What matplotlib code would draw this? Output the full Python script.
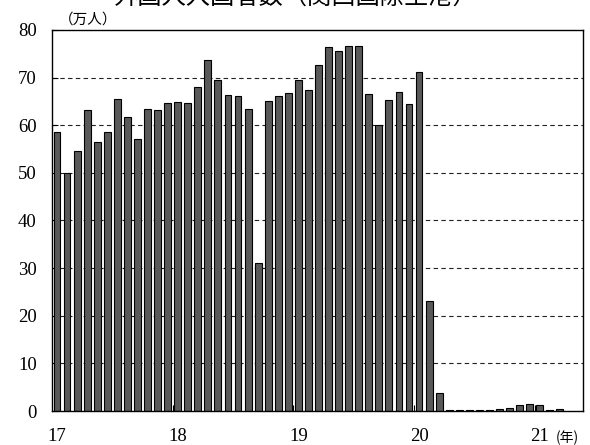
import matplotlib.pyplot as plt
import numpy as np

plt.rcParams['font.family'] = ['Liberation Serif', 'Noto Sans CJK JP']

# 月次データ 2017年1月〜2021年3月（万人）
y2017 = [58.6, 49.9, 54.5, 63.3, 56.4, 58.6, 65.6, 61.7, 57.1, 63.5, 63.3, 64.6]
y2018 = [64.8, 64.6, 68.0, 73.7, 69.4, 66.3, 66.2, 63.5, 31.1, 65.1, 66.1, 66.8]
y2019 = [69.6, 67.5, 72.6, 76.4, 75.5, 76.6, 76.6, 66.6, 60.1, 65.3, 67.0, 64.5]
y2020 = [71.1, 23.1, 3.7, 0.2, 0.2, 0.2, 0.2, 0.2, 0.5, 0.7, 1.3, 1.5]
y2021 = [1.3, 0.2, 0.4]
year_labels = ['17', '18', '19', '20', '21']

values = np.array(y2017 + y2018 + y2019 + y2020 + y2021)
x = np.arange(len(values))

fig = plt.figure(figsize=(5.9, 4.45), dpi=100)
ax = fig.add_axes([0.0881, 0.0764, 0.9000, 0.8562])

for v in range(10, 80, 10):
    ax.axhline(v, color='#222222', lw=0.8, ls=(0, (4, 3)), zorder=1)

ax.bar(x, values, width=0.68, color='#595959', edgecolor='black', linewidth=0.8, zorder=2)

ax.set_xlim(-0.5, 52.3)
ax.set_ylim(0, 80)
ax.set_yticks(range(0, 81, 10))
ax.tick_params(axis='y', direction='in', length=4, width=0.8, pad=11, labelsize=13.5)

# 年ラベルは1月の位置、目盛は年の区切り
ax.set_xticks(np.arange(0, len(values), 12))
ax.set_xticklabels(year_labels)
ax.set_xticks(np.arange(11.5, len(values), 12), minor=True)
ax.tick_params(axis='x', which='major', length=0, pad=12, labelsize=13.5)
ax.tick_params(axis='x', which='minor', direction='in', length=4, width=0.8)

for s in ax.spines.values():
    s.set_linewidth(1.0)
    s.set_zorder(3)

ax.text(49.6, -0.07, '(年)', transform=ax.get_xaxis_transform(), fontsize=10,
        family=['Noto Sans CJK JP'], ha='left', va='center')
fig.text(0.100, 0.957, '（万人）', fontsize=10.5, family=['Noto Sans CJK JP'],
         ha='left', va='center')
fig.text(0.5, 1.005, '外国人入国者数（関西国際空港）', fontsize=17.5,
         family=['Noto Sans CJK JP'], ha='center', va='center')

fig.savefig('out.png', dpi=100)
